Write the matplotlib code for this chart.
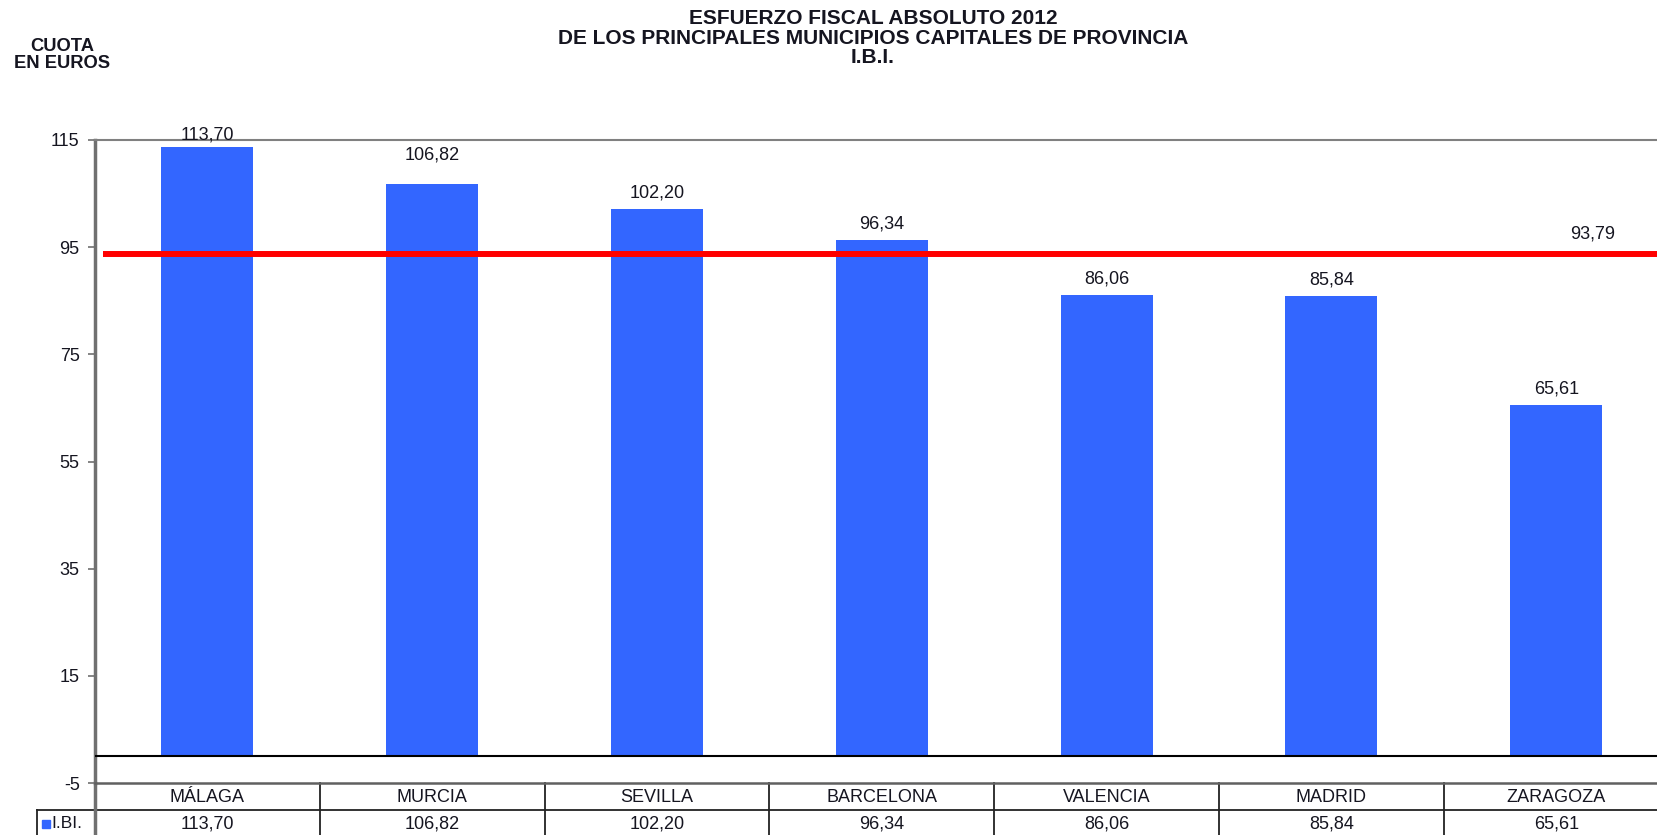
import matplotlib
matplotlib.use("Agg")
import matplotlib.pyplot as plt
import matplotlib.transforms as mtransforms
from matplotlib.patches import Rectangle

# ---- data ----
municipios = ["MÁLAGA", "MURCIA", "SEVILLA", "BARCELONA", "VALENCIA", "MADRID", "ZARAGOZA"]
ibi = [113.70, 106.82, 102.20, 96.34, 86.06, 85.84, 65.61]
promedio = 93.79
yticks = [-5, 15, 35, 55, 75, 95, 115]
serie = "I.BI."
titulo = "ESFUERZO FISCAL ABSOLUTO 2012\nDE LOS PRINCIPALES MUNICIPIOS CAPITALES DE PROVINCIA\nI.B.I."
ylabel = "CUOTA\nEN EUROS"

def fmt(v):
    return f"{v:.2f}".replace(".", ",")

plt.rcParams['font.family'] = ['Liberation Sans', 'DejaVu Sans']
W, H = 1657, 835
fig = plt.figure(figsize=(W / 100, H / 100), dpi=100)
fig.patch.set_facecolor("white")

left_px, top_px, bot_px, colw = 95, 140, 783, 224.8
ax = fig.add_axes([left_px / W, 1 - bot_px / H, 7 * colw / W, (bot_px - top_px) / H])
ax.set_xlim(-0.5, len(municipios) - 0.5)
ax.set_ylim(-5, 115)

x = list(range(len(municipios)))
blue = "#3366FF"
txt = "#151520"
fs = 13
ax.bar(x, ibi, width=0.41, color=blue, zorder=2)
label_offsets = [8.5, 20.5, 11.5, 11.5, 11.5, 11.5, 11.5]
for xi, v, off in zip(x, ibi, label_offsets):
    ax.annotate(fmt(v), (xi, v), xytext=(0, off), textcoords="offset points",
                ha="center", va="center", fontsize=fs, color=txt)

# zero line
ax.axhline(0, color="black", lw=1.5, zorder=3)
# average line
ax.hlines(promedio, -0.465, len(municipios) - 0.5, color="#FF0000", lw=4.3, zorder=4)
ax.annotate(fmt(promedio), (6.16, promedio), xytext=(0, 14.5), textcoords="offset points",
            ha="center", va="center", fontsize=fs, color=txt)

# spines / ticks
ax.spines["right"].set_visible(False)
ax.spines["left"].set_color("#707070")
ax.spines["left"].set_linewidth(2.5)
ax.spines["top"].set_color("#808080")
ax.spines["top"].set_linewidth(1.5)
ax.spines["bottom"].set_color("#606060")
ax.spines["bottom"].set_linewidth(1.8)
ax.set_yticks(yticks)
ax.set_yticklabels([str(t) for t in yticks], fontsize=fs, color=txt)
ax.tick_params(axis="y", length=5, width=1.2, color="#707070", pad=6)
ax.set_xticks([])

# ---- data table ----
tr = mtransforms.blended_transform_factory(ax.transData, ax.transAxes)
ph = bot_px - top_px
h1 = -27 / ph
h2 = -54 / ph
row_label_x = (37 - left_px) / colw - 0.5
lc = "#222222"
ax.plot([-0.5, 6.5], [h1, h1], transform=tr, color=lc, lw=1.3, clip_on=False)
ax.plot([row_label_x, -0.5], [h1, h1], transform=tr, color=lc, lw=1.3, clip_on=False)
ax.plot([-0.5, -0.5], [0, h2], transform=tr, color="#707070", lw=2.5, clip_on=False)
ax.plot([row_label_x, row_label_x], [h1, h2], transform=tr, color=lc, lw=1.3, clip_on=False)
for k in range(1, len(municipios) + 1):
    ax.plot([k - 0.5, k - 0.5], [0, h2], transform=tr, color=lc, lw=1.3, clip_on=False)
for xi, name, v in zip(x, municipios, ibi):
    ax.text(xi, -15 / ph, name, transform=tr, ha="center", va="center", fontsize=fs, color=txt)
    ax.text(xi, -41 / ph, fmt(v), transform=tr, ha="center", va="center", fontsize=fs, color=txt)
# row label with legend key
sq_w = 8 / colw
ax.add_patch(Rectangle((row_label_x + 5 / colw, -45 / ph), sq_w, 8 / ph, transform=tr,
                       color=blue, clip_on=False))
ax.text(row_label_x + 14 / colw, -41 / ph, serie, transform=tr, ha="left", va="center",
        fontsize=12.5, color=txt)

# ---- titles ----
fig.text(873 / W, 1 - 38 / H, titulo, ha="center", va="center", fontsize=15,
         fontweight="bold", color=txt, linespacing=1.02)
fig.text(62 / W, 1 - 55 / H, ylabel, ha="center", va="center", fontsize=13.2,
         fontweight="bold", color=txt, linespacing=1.0)

fig.savefig("out.png", dpi=100, facecolor="white")
